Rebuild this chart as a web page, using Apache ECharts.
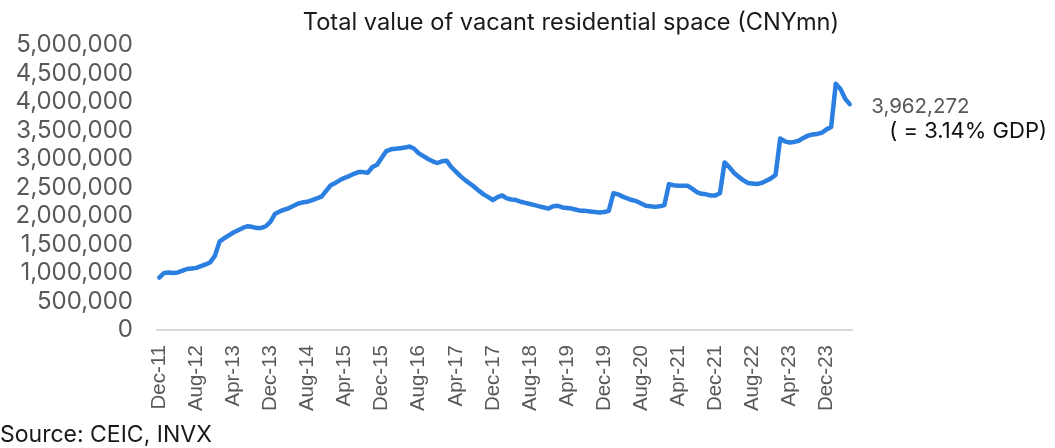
<!DOCTYPE html>
<html>
<head>
<meta charset="utf-8">
<script src="https://cdn.jsdelivr.net/npm/echarts@6/dist/echarts.min.js"></script>
<style>
  html, body { margin: 0; padding: 0; background: #fff; }
  #chart { width: 1055px; height: 448px; }
</style>
</head>
<body>
<div id="chart"></div>
<script>
// Monthly categories Dec-11 .. May-24
const monthNames = ['Jan','Feb','Mar','Apr','May','Jun','Jul','Aug','Sep','Oct','Nov','Dec'];
const categories = [];
for (let i = 0; i < 150; i++) {
  const m = (11 + i) % 12;
  const y = 11 + Math.floor((11 + i) / 12);
  categories.push(monthNames[m] + '-' + y);
}

// Total value of vacant residential space, CNY mn
const vacantValue = [
  920000, 1000000, 1010000, 1000000, 1010000, 1040000, 1070000, 1080000, 1090000, 1120000, 1150000, 1190000,
  1300000, 1550000, 1610000, 1660000, 1710000, 1750000, 1790000, 1820000, 1810000, 1790000, 1790000, 1820000,
  1900000, 2040000, 2080000, 2110000, 2140000, 2180000, 2220000, 2240000, 2250000, 2280000, 2310000, 2340000,
  2440000, 2540000, 2580000, 2630000, 2670000, 2700000, 2740000, 2770000, 2770000, 2760000, 2860000, 2900000,
  3020000, 3140000, 3170000, 3180000, 3190000, 3200000, 3220000, 3180000, 3100000, 3050000, 3000000, 2960000,
  2930000, 2960000, 2970000, 2860000, 2780000, 2700000, 2630000, 2570000, 2510000, 2440000, 2380000, 2330000,
  2280000, 2330000, 2360000, 2310000, 2290000, 2280000, 2250000, 2230000, 2210000, 2190000, 2170000, 2150000,
  2130000, 2170000, 2180000, 2150000, 2140000, 2130000, 2110000, 2090000, 2090000, 2080000, 2070000, 2060000,
  2070000, 2090000, 2400000, 2380000, 2340000, 2310000, 2280000, 2260000, 2220000, 2180000, 2170000, 2160000,
  2170000, 2190000, 2560000, 2540000, 2530000, 2530000, 2530000, 2480000, 2420000, 2390000, 2380000, 2360000,
  2360000, 2400000, 2940000, 2860000, 2760000, 2690000, 2630000, 2580000, 2570000, 2560000, 2580000, 2620000,
  2660000, 2720000, 3360000, 3310000, 3290000, 3300000, 3320000, 3370000, 3410000, 3430000, 3440000, 3460000,
  3520000, 3560000, 4320000, 4230000, 4060000, 3962272
];

const yTicks = { min: 0, max: 5000000, interval: 500000 };
const titleText = 'Total value of vacant residential space (CNYmn)';
const sourceText = 'Source: CEIC, INVX';
const gdpNote = '( = 3.14% GDP)';

const fmt = v => Math.round(v).toLocaleString('en-US');
const lastIdx = vacantValue.length - 1;

const chart = echarts.init(document.getElementById('chart'), null, { renderer: 'canvas' });
chart.setOption({
  animation: false,
  title: {
    text: titleText,
    left: 566, top: 6, textAlign: 'center',
    textStyle: { fontFamily: 'Inter', fontSize: 23.6, fontWeight: 'normal', color: '#1a1a1a' }
  },
  grid: { left: 157, right: 203, top: 45, bottom: 118 },
  xAxis: {
    type: 'category',
    data: categories,
    boundaryGap: true,
    axisLine: { show: true, lineStyle: { color: '#D9D9D9', width: 2 } },
    axisTick: { show: false },
    axisLabel: {
      interval: 7, rotate: 90, margin: 15,
      fontFamily: 'Liberation Sans', fontSize: 20.5, color: '#595959'
    }
  },
  yAxis: {
    type: 'value',
    min: yTicks.min, max: yTicks.max, interval: yTicks.interval,
    splitLine: { show: false },
    axisLine: { show: false },
    axisTick: { show: false },
    axisLabel: {
      margin: 24, formatter: v => fmt(v),
      fontFamily: 'Inter', fontSize: 24, color: '#595959'
    }
  },
  series: [{
    type: 'line',
    data: vacantValue,
    showSymbol: false,
    symbol: 'none',
    lineStyle: { color: '#2B7FE0', width: 4.5, cap: 'round', join: 'round' },
    itemStyle: { color: '#2B7FE0' },
    markPoint: {
      symbol: 'circle',
      symbolSize: 1,
      itemStyle: { color: 'rgba(0,0,0,0)' },
      data: [{ coord: [lastIdx, vacantValue[lastIdx]], value: vacantValue[lastIdx] }],
      label: {
        show: true,
        position: 'right',
        distance: 21,
        offset: [0, 15],
        align: 'left',
        formatter: p => '{a|' + fmt(p.value) + '}\n{b|' + gdpNote + '}',
        rich: {
          a: { fontFamily: 'Inter', fontSize: 20.5, color: '#595959', lineHeight: 24 },
          b: { fontFamily: 'Inter', fontSize: 22, color: '#111', lineHeight: 24, padding: [0, 0, 0, 18] }
        }
      }
    }
  }],
  graphic: [{
    type: 'text', left: 0, top: 424,
    style: { text: sourceText, fontFamily: 'Inter', fontSize: 23, fill: '#1a1a1a' }
  }]
});
</script>
</body>
</html>
